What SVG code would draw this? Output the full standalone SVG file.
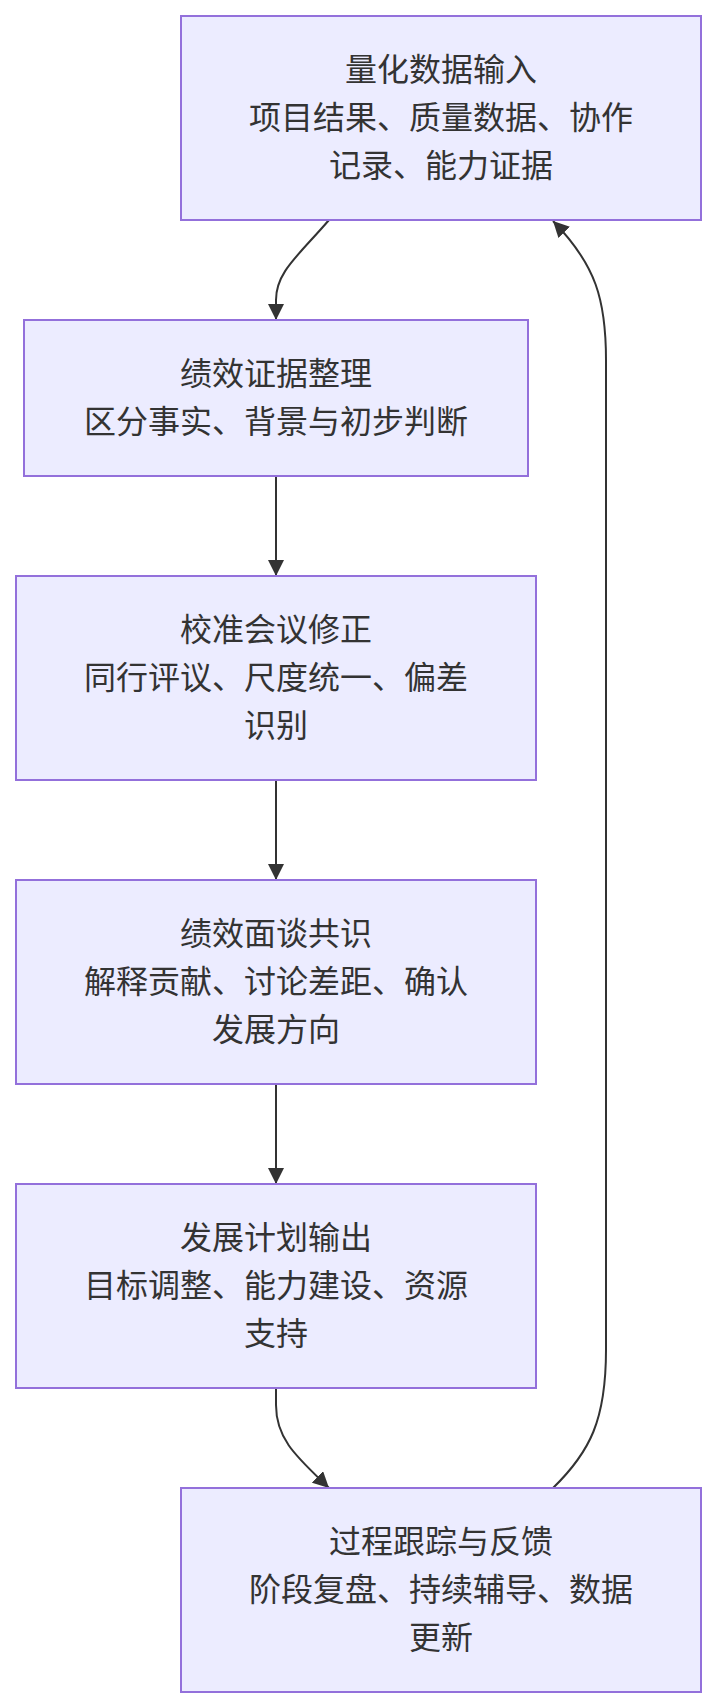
<svg xmlns="http://www.w3.org/2000/svg" width="717" height="1708" viewBox="0 0 717 1708">
<defs>
<style>
.node rect{fill:#ECECFF;stroke:#9370DB;stroke-width:2;}
.node text{font-family:"Liberation Sans","Noto Sans CJK SC",sans-serif;font-size:32px;fill:#333;text-anchor:middle;dominant-baseline:central;}
.edges path{fill:none;stroke:#333;stroke-width:2;}
</style>
<marker id="arrow" viewBox="0 0 10 10" refX="10" refY="5" markerUnits="userSpaceOnUse" markerWidth="16" markerHeight="16" orient="auto">
<path d="M0,0 L10,5 L0,10 z" fill="#333"/>
</marker>
</defs>
<rect width="717" height="1708" fill="#ffffff"/>
<g id="edges" class="edges">
<path d="M329,220 C298,256 276,272 276,300 L276,320" marker-end="url(#arrow)"/>
<path d="M276,476 L276,576" marker-end="url(#arrow)"/>
<path d="M276,780 L276,880" marker-end="url(#arrow)"/>
<path d="M276,1084 L276,1184" marker-end="url(#arrow)"/>
<path d="M276,1388 L276,1405 C276,1440 298,1458 329,1488" marker-end="url(#arrow)"/>
<path d="M553,1488 C590,1452 606,1420 606,1350 L606,360 C606,300 596,265 553,221" marker-end="url(#arrow)"/>
</g>
<g id="n1" class="node">
<rect x="181" y="16" width="520" height="204"/>
<text x="441" y="70">量化数据输入</text>
<text x="441" y="118">项目结果、质量数据、协作</text>
<text x="441" y="166">记录、能力证据</text>
</g>
<g id="n2" class="node">
<rect x="24" y="320" width="504" height="156"/>
<text x="276" y="374">绩效证据整理</text>
<text x="276" y="422">区分事实、背景与初步判断</text>
</g>
<g id="n3" class="node">
<rect x="16" y="576" width="520" height="204"/>
<text x="276" y="630">校准会议修正</text>
<text x="276" y="678">同行评议、尺度统一、偏差</text>
<text x="276" y="726">识别</text>
</g>
<g id="n4" class="node">
<rect x="16" y="880" width="520" height="204"/>
<text x="276" y="934">绩效面谈共识</text>
<text x="276" y="982">解释贡献、讨论差距、确认</text>
<text x="276" y="1030">发展方向</text>
</g>
<g id="n5" class="node">
<rect x="16" y="1184" width="520" height="204"/>
<text x="276" y="1238">发展计划输出</text>
<text x="276" y="1286">目标调整、能力建设、资源</text>
<text x="276" y="1334">支持</text>
</g>
<g id="n6" class="node">
<rect x="181" y="1488" width="520" height="204"/>
<text x="441" y="1542">过程跟踪与反馈</text>
<text x="441" y="1590">阶段复盘、持续辅导、数据</text>
<text x="441" y="1638">更新</text>
</g>
</svg>
